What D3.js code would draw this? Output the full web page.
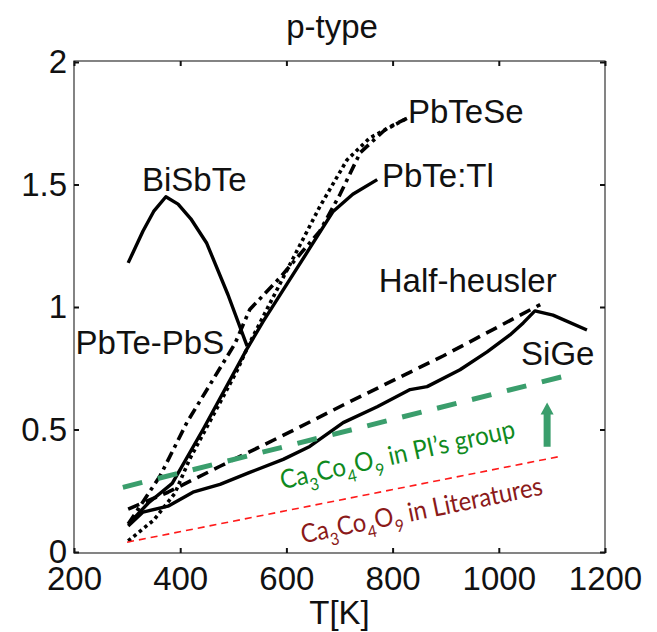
<!DOCTYPE html>
<html><head><meta charset="utf-8">
<script src="https://cdn.jsdelivr.net/npm/d3@7"></script>
<style>body{margin:0;background:#fff}</style>
</head><body>
<svg id="chart" width="657" height="632"></svg>
<script>
// ---------- data ----------
const xTicks = [200, 400, 600, 800, 1000, 1200];
const yTicks = [0, 0.5, 1, 1.5, 2];
const yTickLabels = ["0", "0.5", "1", "1.5", "2"];

const biSbTe   = [[302,1.18],[330,1.31],[350,1.39],[373,1.45],[396,1.42],[420,1.36],[450,1.26],[490,1.05],[526,0.84]];
const pbTeTl   = [[305,0.12],[340,0.2],[385,0.28],[443,0.50],[526,0.83],[556,0.94],[600,1.09],[644,1.24],[688,1.39],[725,1.46],[771,1.52]];
const pbTeSe   = [[302,0.045],[350,0.13],[390,0.24],[418,0.38],[475,0.61],[507,0.74],[530,0.85],[601,1.15],[663,1.41],[714,1.60],[757,1.69],[827,1.77]];
const pbTePbS  = [[302,0.114],[362,0.31],[413,0.53],[503,0.85],[531,0.99],[588,1.12],[663,1.31],[701,1.46],[739,1.63],[789,1.73],[827,1.77]];
const halfHeusler = [[302,0.175],[377,0.244],[475,0.35],[607,0.49],[707,0.60],[895,0.80],[1078,1.01]];
const siGe = [[302,0.106],[330,0.163],[377,0.187],[424,0.244],[475,0.276],[531,0.325],[594,0.378],[644,0.431],[707,0.528],[771,0.593],[833,0.663],[865,0.675],[927,0.744],[978,0.817],[1021,0.886],[1046,0.935],[1068,0.984],[1102,0.967],[1166,0.906]];
const caPI  = [[292,0.264],[1119,0.715]];
const caLit = [[300,0.04],[1115,0.39]];
const arrowPI = {T:1091, from:0.43, to:0.61};

const seriesLabels = [
  {text:"PbTeSe", T:829, v:1.75, anchor:"start"},
  {text:"PbTe:Tl", T:780, v:1.49, anchor:"start"},
  {text:"BiSbTe", T:328, v:1.475, anchor:"start"},
  {text:"PbTe-PbS", T:203, v:0.81, anchor:"start"},
  {text:"Half-heusler", T:774, v:1.06, anchor:"start"},
  {text:"SiGe", T:1042, v:0.765, anchor:"start"}
];

// ---------- layout ----------
const svg = d3.select("#chart");
const L = 74, R = 605, T0 = 61, B = 553;
const x = d3.scaleLinear().domain([200,1200]).range([L,R]);
const y = d3.scaleLinear().domain([0,2]).range([552,62]);
const FONT = "'Liberation Sans', Arial, sans-serif";

// frame
svg.append("rect").attr("x",L).attr("y",T0).attr("width",R-L).attr("height",B-T0)
  .attr("fill","none").attr("stroke","#333").attr("stroke-width",1.2);

// axes
const ax = svg.append("g").attr("transform",`translate(0,${B})`)
  .call(d3.axisBottom(x).tickValues(xTicks).tickSize(-5).tickPadding(14).tickFormat(d3.format("d")));
const ay = svg.append("g").attr("transform",`translate(${L},0)`)
  .call(d3.axisLeft(y).tickValues(yTicks).tickSize(-5).tickPadding(7).tickFormat((d,i)=>yTickLabels[i]));
const axT = svg.append("g").attr("transform",`translate(0,${T0})`)
  .call(d3.axisTop(x).tickValues(xTicks).tickSize(-5).tickFormat(""));
const ayR = svg.append("g").attr("transform",`translate(${R},0)`)
  .call(d3.axisRight(y).tickValues(yTicks).tickSize(-5).tickFormat(""));
[ax,ay,axT,ayR].forEach(g=>{
  g.select(".domain").remove();
  g.selectAll(".tick line").attr("stroke","#111").attr("stroke-width",2);
  g.selectAll(".tick text").attr("font-family",FONT).attr("font-size",33).attr("fill","#111");
});

// lines
const line = d3.line().x(d=>x(d[0])).y(d=>y(d[1]));
function draw(data, dash, w, color){
  svg.append("path").datum(data).attr("d",line)
    .attr("fill","none").attr("stroke",color||"#000").attr("stroke-width",w)
    .attr("stroke-dasharray",dash).attr("stroke-linejoin","round");
}
draw(biSbTe, null, 3.4);
draw(pbTePbS, "11,5,3.5,5", 3.6);
draw(pbTeSe, "3.5,3.5", 3.6);
draw(pbTeTl, null, 3.4);
draw(halfHeusler, "12,7", 3.6);
draw(siGe, null, 3.4);
draw(caPI, "20,16", 5, "#3a9e6c");
draw(caLit, "7,5", 1.6, "#ff1a1a");

// arrow
const ax0 = x(arrowPI.T), ay0 = y(arrowPI.from), ay1 = y(arrowPI.to);
svg.append("path")
  .attr("d",`M${ax0-3.5},${ay0} L${ax0-3.5},${ay1+12} L${ax0-6.5},${ay1+12} L${ax0},${ay1} L${ax0+6.5},${ay1+12} L${ax0+3.5},${ay1+12} L${ax0+3.5},${ay0} Z`)
  .attr("fill","#3a9e6c");

// series labels
svg.selectAll(".slab").data(seriesLabels).enter().append("text")
  .attr("x",d=>x(d.T)).attr("y",d=>y(d.v)).attr("text-anchor",d=>d.anchor)
  .attr("font-family",FONT).attr("font-size",33).attr("fill","#111").text(d=>d.text);

// rotated annotation texts
function caText(T, v, angle, color, tail, len){
  const t = svg.append("text")
    .attr("transform",`translate(${x(T)},${y(v)}) rotate(${angle})`)
    .attr("font-family","Lato, 'Open Sans', sans-serif").attr("font-size",26).attr("fill",color)
    .attr("textLength",len).attr("lengthAdjust","spacingAndGlyphs");
  const parts = [["Ca",0],["3",1],["Co",0],["4",1],["O",0],["9",1],[tail,0]];
  let sub = false;
  parts.forEach(([s,isSub])=>{
    const ts = t.append("tspan").text(s);
    if(isSub){ ts.attr("font-size",17).attr("dy", sub?0:8); sub = true; }
    else { if(sub){ ts.attr("dy",-8); } sub = false; }
  });
}
caText(592, 0.256, -12.5, "#0f8a1e", " in PI\u2019s group", 240);
caText(631, 0.035, -11.5, "#8b1a1a", " in Literatures", 246);

// title and axis label
svg.append("text").attr("x",332).attr("y",38).attr("text-anchor","middle")
  .attr("font-family",FONT).attr("font-size",33).attr("fill","#111").text("p-type");
svg.append("text").attr("x",(L+R)/2).attr("y",624).attr("text-anchor","middle")
  .attr("font-family",FONT).attr("font-size",33).attr("fill","#111").text("T[K]");
</script>
</body></html>
